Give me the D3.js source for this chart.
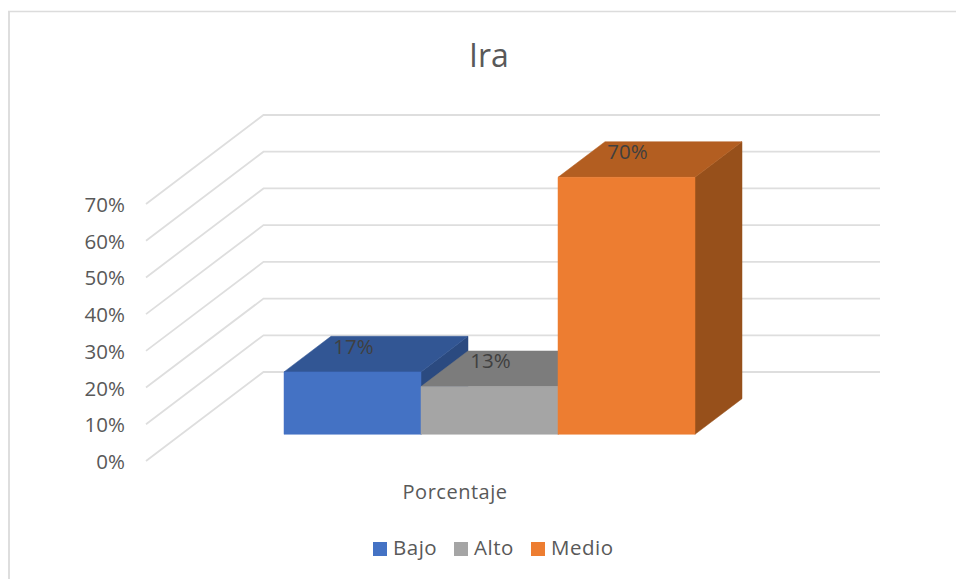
<!DOCTYPE html>
<html>
<head>
<meta charset="utf-8">
<script src="https://cdn.jsdelivr.net/npm/d3@7"></script>
<style>
  html, body { margin: 0; padding: 0; background: #fff; }
  svg { display: block; }
  text { font-family: "Open Sans", sans-serif; }
</style>
</head>
<body>
<div id="chart"></div>
<script>
// Values
const series = ['Bajo', 'Alto', 'Medio'];
const values = [17, 13, 70];
const yTicks = [0, 10, 20, 30, 40, 50, 60, 70];
const categoryLabel = 'Porcentaje';
const chartTitle = 'Ira';

const colors = {
    Bajo:  { front: '#4472c4', top: '#325694', side: '#2b4a80' },
    Alto:  { front: '#a5a5a5', top: '#7c7c7c', side: '#6a6a6a' },
    Medio: { front: '#ed7d31', top: '#b35e21', side: '#97501b' }
};

const width = 956, height = 579;

const svg = d3.select('#chart').append('svg')
    .attr('width', width)
    .attr('height', height);

// chart frame, only top and left edge show in the reference
svg.append('path')
    .attr('d', 'M9,579V11')
    .attr('stroke', '#dedede')
    .attr('stroke-width', 2);
svg.append('path')
    .attr('d', 'M8,11.5H956')
    .attr('stroke', '#dcdcdc')
    .attr('stroke-width', 1.3);

// front plane scales
const y = d3.scaleLinear().domain([0, 70]).range([461, 204]);
const x = d3.scaleBand().domain(series).range([146, 762.5])
    .paddingInner(0).paddingOuter(0.75);

// depth goes from the front plane (0) to the back wall (1)
const depthX = d3.scaleLinear().domain([0, 1]).range([0, 117.5]);
const depthY = d3.scaleLinear().domain([0, 1]).range([0, -89]);

const project = (px, value, z) => [px + depthX(z), y(value) + depthY(z)];
const line = d3.line();

// gridlines: up the side wall then along the back wall
svg.append('g').selectAll('path')
    .data(yTicks)
    .join('path')
    .attr('d', d => line([project(146, d, 0), project(146, d, 1), project(762.5, d, 1)]))
    .attr('fill', 'none')
    .attr('stroke', '#dedede')
    .attr('stroke-width', 1.8);

// y axis
const axis = svg.append('g')
    .attr('transform', 'translate(133,1)')
    .call(d3.axisLeft(y).tickValues(yTicks).tickSize(0).tickPadding(8).tickFormat(d => d + '%'));
axis.select('.domain').remove();
axis.selectAll('text')
    .attr('font-size', 20.5)
    .attr('font-family', '"Open Sans", sans-serif')
    .attr('fill', '#595959');

// bars, left to right so each one covers the side of the previous
const zFront = 0.3, zBack = 0.7;
const bars = svg.append('g').selectAll('g')
    .data(series.map((s, i) => ({ name: s, value: values[i] })))
    .join('g');

const poly = pts => line(pts) + 'Z';

bars.append('path')
    .attr('fill', d => colors[d.name].side)
    .attr('stroke', d => colors[d.name].side)
    .attr('stroke-width', 0.5)
    .attr('d', d => {
        const r = x(d.name) + x.bandwidth();
        return poly([project(r, 0, zFront), project(r, 0, zBack), project(r, d.value, zBack), project(r, d.value, zFront)]);
    });

bars.append('path')
    .attr('fill', d => colors[d.name].top)
    .attr('stroke', d => colors[d.name].top)
    .attr('stroke-width', 0.5)
    .attr('d', d => {
        const l = x(d.name), r = l + x.bandwidth();
        return poly([project(l, d.value, zFront), project(r, d.value, zFront), project(r, d.value, zBack), project(l, d.value, zBack)]);
    });

bars.append('path')
    .attr('fill', d => colors[d.name].front)
    .attr('stroke', d => colors[d.name].front)
    .attr('stroke-width', 0.5)
    .attr('d', d => {
        const l = x(d.name), r = l + x.bandwidth();
        return poly([project(l, 0, zFront), project(r, 0, zFront), project(r, d.value, zFront), project(l, d.value, zFront)]);
    });

// data labels sit on the top face, centred over the front of the bar
bars.append('text')
    .attr('x', d => project(x(d.name) + x.bandwidth() / 2, d.value, zFront)[0] + 1)
    .attr('y', d => project(0, d.value, zBack)[1] + 17.5)
    .attr('text-anchor', 'middle')
    .attr('font-size', 20.5)
    .attr('fill', '#404040')
    .text(d => d.value + '%');

svg.append('text')
    .attr('x', 489)
    .attr('y', 67)
    .attr('text-anchor', 'middle')
    .attr('font-size', 32)
    .attr('fill', '#595959')
    .text(chartTitle);

svg.append('text')
    .attr('x', 455)
    .attr('y', 498.5)
    .attr('text-anchor', 'middle')
    .attr('font-size', 20)
    .attr('letter-spacing', 0.5)
    .attr('fill', '#595959')
    .text(categoryLabel);

// legend
const legendX = [373, 454, 531];
const legend = svg.append('g').selectAll('g')
    .data(series)
    .join('g')
    .attr('transform', (d, i) => `translate(${legendX[i]},542)`);

legend.append('rect')
    .attr('width', 14)
    .attr('height', 14)
    .attr('fill', d => colors[d].front);

legend.append('text')
    .attr('x', 20)
    .attr('y', 13)
    .attr('font-size', 20.5)
    .attr('letter-spacing', 0.5)
    .attr('fill', '#595959')
    .text(d => d);
</script>
</body>
</html>
